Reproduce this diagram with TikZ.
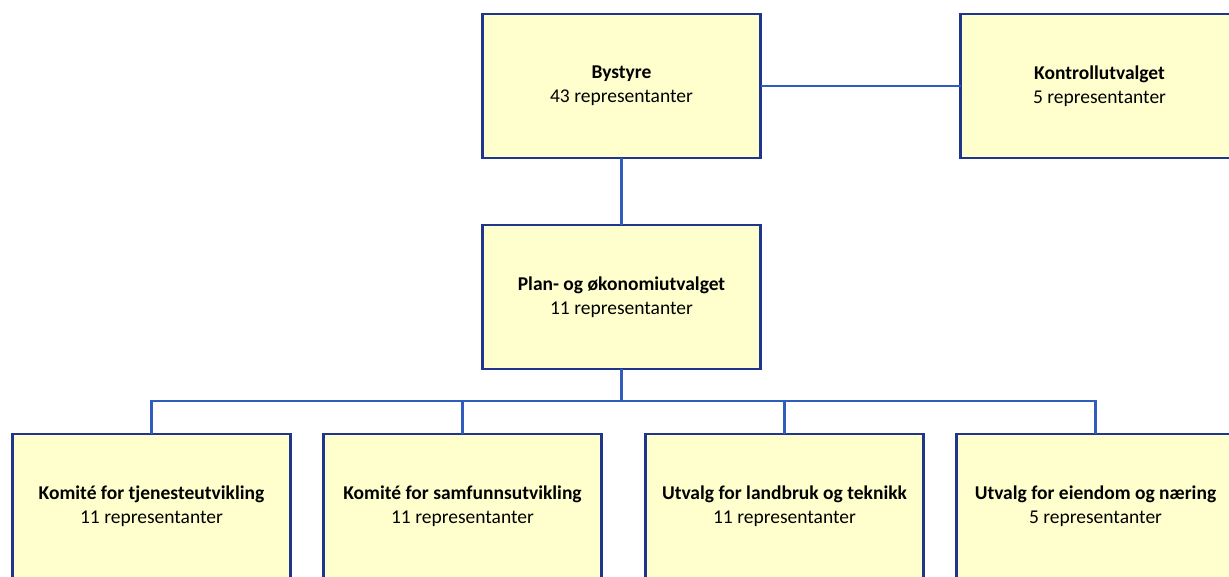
\documentclass[tikz,border=0pt]{standalone}
\usepackage{fontspec}
\setmainfont{Carlito}
\usetikzlibrary{positioning}

\definecolor{boxfill}{RGB}{255,255,206}
\definecolor{boxline}{RGB}{32,54,140}
\definecolor{linkline}{RGB}{48,92,190}

\begin{document}
\begin{tikzpicture}[x=1pt, y=1pt, node distance=60pt,
    unit/.style={draw=boxline, fill=boxfill, line width=2.8pt, minimum width=278pt,
      minimum height=144pt, inner sep=0pt, outer sep=0pt, align=center,
      font=\fontsize{19.5}{24}\selectfont},
    link/.style={draw=linkline, line width=2.4pt}]
    \useasboundingbox (0,0) rectangle (1229,576);

    \node [unit] (bystyre) at (621.5,490) {\textbf{Bystyre}\\43 representanter};
    \node [unit, right=200pt of bystyre] (kontroll) {\textbf{Kontrollutvalget}\\5 representanter};
    \node [unit, below=67pt of bystyre] (plan) {\textbf{Plan- og økonomiutvalget}\\11 representanter};

    \node [unit] (tjeneste) at (151.5,70) {\textbf{Komité for tjenesteutvikling}\\11 representanter};
    \node [unit, right=33pt of tjeneste] (samfunn) {\textbf{Komité for samfunnsutvikling}\\11 representanter};
    \node [unit, right=44pt of samfunn] (landbruk) {\textbf{Utvalg for landbruk og teknikk}\\11 representanter};
    \node [unit, right=33pt of landbruk] (eiendom) {\textbf{Utvalg for eiendom og næring}\\5 representanter};

    \path [link] (bystyre) -- (kontroll);
    \path [link] (bystyre) -- (plan);
    \path [link] (plan.south) -- ++(0,-32) coordinate (bus);
    \foreach \n in {tjeneste, samfunn, landbruk, eiendom}
        \path [link] (\n.north) |- (bus);
\end{tikzpicture}
\end{document}
